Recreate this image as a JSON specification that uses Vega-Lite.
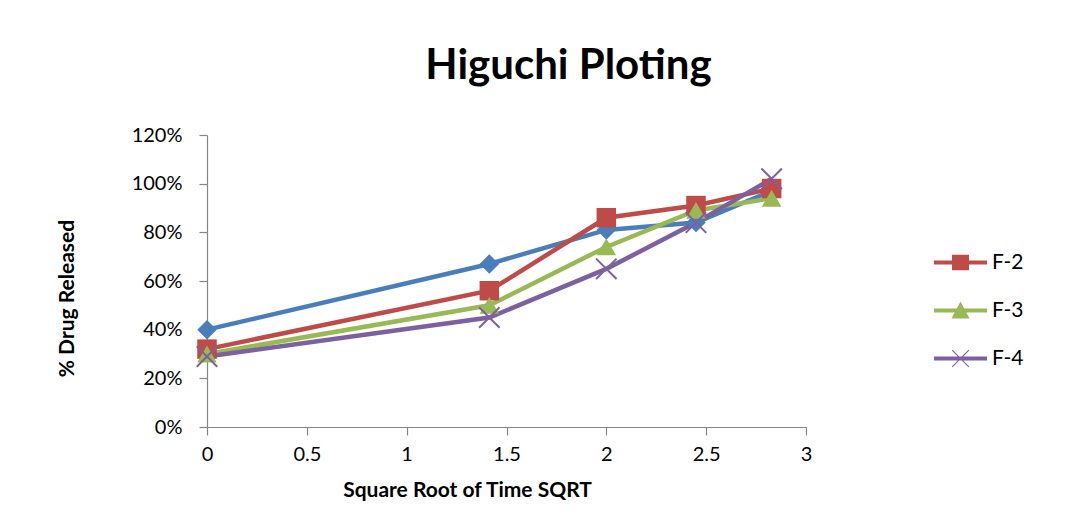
{
  "$schema": "https://vega.github.io/schema/vega-lite/v6.json",
  "autosize": "none",
  "width": 599,
  "height": 292,
  "padding": {"left": 207, "top": 135, "right": 274, "bottom": 87},
  "background": "white",
  "config": {
    "font": "Lato",
    "view": {"stroke": null},
    "axis": {
      "grid": false,
      "domainColor": "#868686",
      "tickColor": "#868686",
      "domainWidth": 1.2,
      "tickWidth": 1.2,
      "tickSize": 8,
      "labelFont": "Lato",
      "labelFontSize": 20,
      "labelColor": "#000000",
      "titleFont": "Lato",
      "titleFontSize": 21,
      "titleFontWeight": "bold",
      "titleColor": "#000000"
    }
  },
  "title": {
    "text": "Higuchi Ploting",
    "font": "Lato",
    "fontSize": 42,
    "fontWeight": "bold",
    "color": "#000000",
    "anchor": "middle",
    "dx": 62,
    "baseline": "alphabetic",
    "offset": 4
  },
  "data": {
    "values": [
      {"sqrt_time": 0, "series": "F-1", "released": 0.40},
      {"sqrt_time": 1.414, "series": "F-1", "released": 0.67},
      {"sqrt_time": 2, "series": "F-1", "released": 0.81},
      {"sqrt_time": 2.449, "series": "F-1", "released": 0.84},
      {"sqrt_time": 2.828, "series": "F-1", "released": 0.97},
      {"sqrt_time": 0, "series": "F-2", "released": 0.32},
      {"sqrt_time": 1.414, "series": "F-2", "released": 0.56},
      {"sqrt_time": 2, "series": "F-2", "released": 0.86},
      {"sqrt_time": 2.449, "series": "F-2", "released": 0.91},
      {"sqrt_time": 2.828, "series": "F-2", "released": 0.98},
      {"sqrt_time": 0, "series": "F-3", "released": 0.30},
      {"sqrt_time": 1.414, "series": "F-3", "released": 0.50},
      {"sqrt_time": 2, "series": "F-3", "released": 0.74},
      {"sqrt_time": 2.449, "series": "F-3", "released": 0.89},
      {"sqrt_time": 2.828, "series": "F-3", "released": 0.94},
      {"sqrt_time": 0, "series": "F-4", "released": 0.29},
      {"sqrt_time": 1.414, "series": "F-4", "released": 0.45},
      {"sqrt_time": 2, "series": "F-4", "released": 0.65},
      {"sqrt_time": 2.449, "series": "F-4", "released": 0.84},
      {"sqrt_time": 2.828, "series": "F-4", "released": 1.02}
    ]
  },
  "encoding": {
    "x": {
      "field": "sqrt_time",
      "type": "quantitative",
      "scale": {"domain": [0, 3], "nice": false},
      "axis": {
        "title": "Square Root of Time SQRT",
        "values": [0, 0.5, 1, 1.5, 2, 2.5, 3],
        "format": "~g",
        "labelPadding": 9,
        "labelFlush": false,
        "titleX": 260,
        "titleY": 63,
        "titleAlign": "center",
        "titleBaseline": "middle"
      }
    },
    "y": {
      "field": "released",
      "type": "quantitative",
      "scale": {"domain": [0, 1.2], "nice": false},
      "axis": {
        "title": "% Drug Released",
        "format": ".0%",
        "values": [0, 0.2, 0.4, 0.6, 0.8, 1.0, 1.2],
        "labelPadding": 17,
        "labelFlush": false,
        "titleX": -140,
        "titleY": 163,
        "titleAlign": "center",
        "titleBaseline": "middle",
        "titleAngle": -90
      }
    },
    "color": {
      "field": "series",
      "type": "nominal",
      "scale": {
        "domain": ["F-1", "F-2", "F-3", "F-4"],
        "range": ["#4A7EBB", "#BE4B48", "#98B954", "#7D60A0"]
      },
      "legend": {
        "title": null,
        "values": ["F-2", "F-3", "F-4"],
        "orient": "none",
        "legendX": 727,
        "legendY": 101,
        "symbolSize": 2809,
        "labelFont": "Lato",
        "labelFontSize": 21,
        "labelColor": "#000000",
        "labelOffset": 5,
        "rowPadding": 11,
        "encode": {
          "symbols": {
            "update": {
              "fill": {"scale": "color", "field": "value"},
              "stroke": {"value": "transparent"},
              "strokeWidth": {"value": 0},
              "opacity": {"value": 1},
              "shape": {
                "signal": "datum.value === 'F-2' ? 'M-1,-0.075H1V0.075H-1Z M-0.32,-0.29H0.32V0.29H-0.32Z' : datum.value === 'F-3' ? 'M-1,-0.075H1V0.075H-1Z M0,-0.34L0.34,0.3L-0.34,0.3Z' : 'M-1,-0.075H1V0.075H-1Z M-0.33,-0.3L-0.3,-0.33L0.33,0.3L0.3,0.33Z M0.3,-0.33L0.33,-0.3L-0.3,0.33L-0.33,0.3Z'"
              }
            }
          }
        }
      }
    }
  },
  "layer": [
    {
      "mark": {"type": "line", "strokeWidth": 4.5},
      "encoding": {"detail": {"field": "series"}}
    },
    {
      "transform": [{"filter": "datum.series !== 'F-4'"}],
      "mark": {"type": "point", "filled": true, "opacity": 1, "size": 380},
      "encoding": {
        "shape": {
          "field": "series",
          "type": "nominal",
          "scale": {
            "domain": ["F-1", "F-2", "F-3"],
            "range": ["diamond", "square", "triangle-up"]
          },
          "legend": null
        }
      }
    },
    {
      "transform": [{"filter": "datum.series === 'F-4'"}],
      "mark": {
        "type": "point",
        "filled": false,
        "opacity": 1,
        "size": 420,
        "strokeWidth": 2,
        "shape": "M-1,-1L1,1M-1,1L1,-1"
      }
    }
  ]
}
